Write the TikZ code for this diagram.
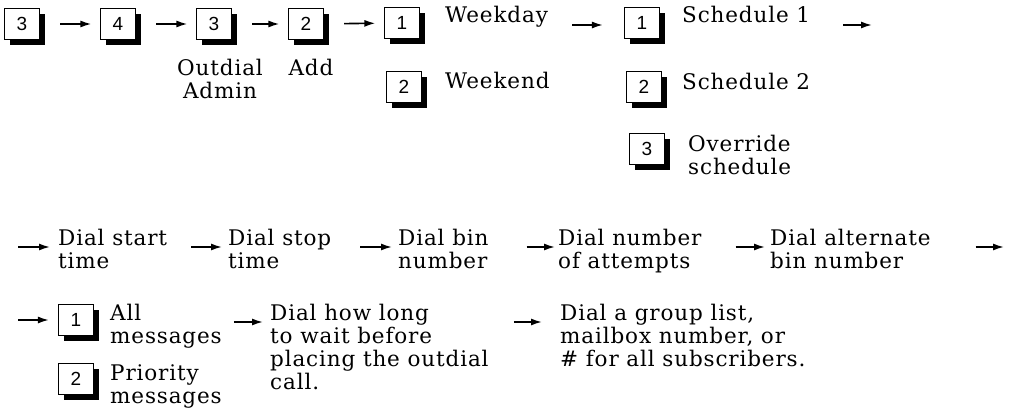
\documentclass[tikz,border=0pt]{standalone}
\usepackage{fontspec}
\setmainfont{DejaVu Serif}[LetterSpace=4]
\newfontfamily\keyfont{Liberation Sans}
\usetikzlibrary{arrows.meta,shadows}
% stacked lines whose baseline is the first line
\newcommand\txtrows[1]{\begin{tabular}[t]{@{}l@{}}#1\end{tabular}}
\newcommand\txtrowsc[1]{\begin{tabular}[t]{@{}c@{}}#1\end{tabular}}

\begin{document}
\begin{tikzpicture}[x=1pt,y=-1pt,
  txt/.style={font=\fontsize{21.5}{23}\selectfont, inner sep=0pt, anchor=base west},
  ctxt/.style={font=\fontsize{21.5}{23}\selectfont, inner sep=0pt, anchor=base},
  keybox/.style={draw, line width=1.2pt, fill=white, minimum width=35pt, minimum height=31pt,
    inner sep=0pt, font=\keyfont\fontsize{19}{19}\selectfont,
    drop shadow={shadow xshift=5pt, shadow yshift=-5pt, opacity=1, fill=black}},
  arr/.style={line width=1.6pt, -{Latex[length=11pt,width=7pt]}},
]
\useasboundingbox (0,0) rectangle (1011,415);

% --- key sequence, top row
\node[keybox] (k1) at (22,24) {3};
\node[keybox] (k2) at (118,24) {4};
\node[keybox] (k3) at (214,24) {3};
\node[keybox] (k4) at (306,24) {2};
\node[keybox] (k5) at (402,23) {1};
\node[keybox] (k6) at (404,87) {2};
\node[keybox] (k7) at (642,23) {1};
\node[keybox] (k8) at (644,87) {2};
\node[keybox] (k9) at (647,149) {3};

\node[ctxt] (outdial) at (220,75) {\txtrowsc{Outdial\\Admin}};
\node[ctxt] (add) at (311,75) {Add};
\node[txt] (weekday) at (445,23) {Weekday};
\node[txt] (weekend) at (445,88) {Weekend};
\node[txt] (sched1) at (682,23) {Schedule 1};
\node[txt] (sched2) at (682,89) {Schedule 2};
\node[txt] (override) at (688,151) {\txtrows{Override\\schedule}};
\coordinate (cont1) at (872,25);

\draw[arr, shorten <=20pt, shorten >=8.5pt] (k1) -- (k2);
\draw[arr, shorten <=20pt, shorten >=8.5pt] (k2) -- (k3);
\draw[arr, shorten <=20pt, shorten >=8.5pt] (k3) -- (k4);
\draw[arr, shorten <=20pt, shorten >=8.5pt] (k4) -- (k5);
\draw[arr, shorten <=24pt, shorten >=21pt] ([yshift=-2pt]weekday.base east) -- ([yshift=-2pt]weekday.base east -| k7.west);
\draw[arr, shorten <=33pt] ([yshift=-2pt]sched1.base east) -- (cont1);

% --- dialling parameters, middle row
\coordinate (start2) at (18,247);
\node[txt] (dstart) at (58,245) {\txtrows{Dial start\\time}};
\node[txt] (dstop) at (228,245) {\txtrows{Dial stop\\time}};
\node[txt] (dbin) at (398,245) {\txtrows{Dial bin\\number}};
\node[txt] (dattempts) at (558,245) {\txtrows{Dial number\\of attempts}};
\node[txt] (dalt) at (770,245) {\txtrows{Dial alternate\\bin number}};
\coordinate (cont2) at (1004,247);

\draw[arr, shorten >=8pt] (start2) -- ([yshift=-2pt]dstart.base west);
\draw[arr, shorten <=24pt, shorten >=6pt] ([yshift=-2pt]dstart.base east) -- ([yshift=-2pt]dstop.base west);
\draw[arr, shorten <=29pt, shorten >=6pt] ([yshift=-2pt]dstop.base east) -- ([yshift=-2pt]dbin.base west);
\draw[arr, shorten <=38pt, shorten >=3pt] ([yshift=-2pt]dbin.base east) -- ([yshift=-2pt]dattempts.base west);
\draw[arr, shorten <=34pt, shorten >=5pt] ([yshift=-2pt]dattempts.base east) -- ([yshift=-2pt]dalt.base west);
\draw[arr, shorten <=45pt] ([yshift=-2pt]dalt.base east) -- (cont2);

% --- message type and delivery, bottom row
\coordinate (start3) at (18,320);
\node[keybox] (m1) at (76,320) {1};
\node[keybox] (m2) at (76,379) {2};
\node[txt] (allmsg) at (110,320) {\txtrows{All\\messages}};
\node[txt] (primsg) at (110,380) {\txtrows{Priority\\messages}};
\node[txt] (wait) at (270,320) {\txtrows{Dial how long\\to wait before\\placing the outdial\\call.}};
\node[txt] (group) at (560,320) {\txtrows{Dial a group list,\\mailbox number, or\\\# for all subscribers.}};

\draw[arr, shorten >=9pt] (start3) -- (m1);
\draw[arr, shorten <=12pt, shorten >=7pt] ([yshift=-2pt]allmsg.base east) -- ([yshift=-2pt]wait.base west);
\draw[arr, shorten <=25pt, shorten >=18pt] ([yshift=-2pt]wait.base east) -- ([yshift=-2pt]group.base west);
\end{tikzpicture}
\end{document}
